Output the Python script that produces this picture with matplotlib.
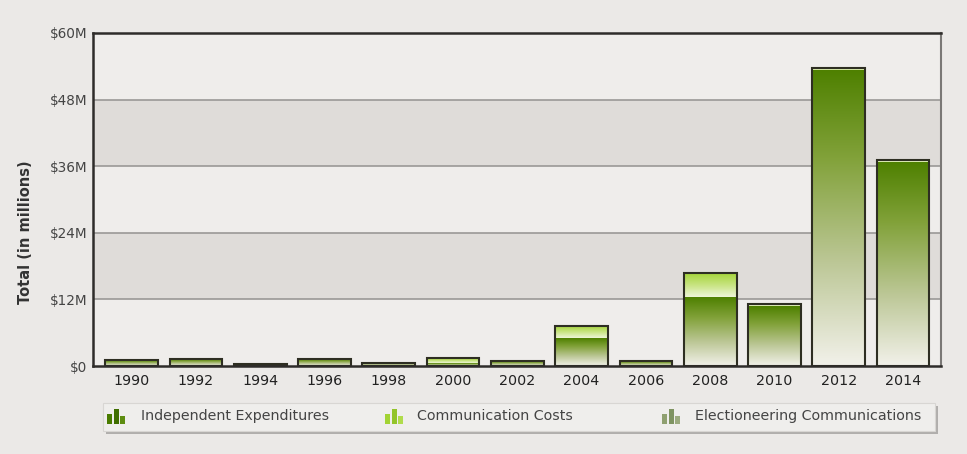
import numpy as np
import matplotlib
matplotlib.use('Agg')
import matplotlib.pyplot as plt
from matplotlib.patches import Rectangle
from matplotlib.colors import LinearSegmentedColormap

# dane (w mln $)
lata = ['1990', '1992', '1994', '1996', '1998', '2000', '2002',
        '2004', '2006', '2008', '2010', '2012', '2014']
niezalezne = [1.0, 1.2, 0.3, 1.2, 0.6, 0.5, 0.9, 5.0, 0.9, 12.4, 10.8, 53.4, 36.8]
komunikacja = [0.0, 0.0, 0.0, 0.0, 0.0, 0.9, 0.0, 2.2, 0.0, 4.4, 0.4, 0.3, 0.4]
wyborcze = [0.0] * 13
yticks = [0, 12, 24, 36, 48, 60]
ytick_labels = ['$0', '$12M', '$24M', '$36M', '$48M', '$60M']
legenda = ['Independent Expenditures', 'Communication Costs',
           'Electioneering Communications']

W, H = 967, 454
bg = '#ebe9e7'
fig = plt.figure(figsize=(W / 100, H / 100), dpi=100, facecolor=bg)
ax = fig.add_axes([93 / W, 1 - 366 / H, (941 - 93) / W, (366 - 33) / H])
ax.set_facecolor('#efedeb')

# pasy tla
for lo, hi in [(12, 24), (36, 48)]:
    ax.axhspan(lo, hi, color='#dfdcd9', zorder=0, lw=0)
for y in yticks[1:-1]:
    ax.axhline(y, color='#9a9896', lw=1.2, zorder=1)

cmap_ie = LinearSegmentedColormap.from_list(
    'ie', [(0, '#f2f1ea'), (0.35, '#bcc796'), (0.7, '#82a23a'), (1, '#4e8000')])
cmap_cc = LinearSegmentedColormap.from_list(
    'cc', ['#eef5d8', '#c6e37e', '#a2d334'])
grad = np.linspace(0, 1, 256).reshape(-1, 1)

x = np.arange(len(lata))
w = 0.82


def segment(xc, y0, h, cmap):
    if h <= 0:
        return
    rect = Rectangle((xc - w / 2, y0), w, h, facecolor='none', edgecolor='none')
    ax.add_patch(rect)
    im = ax.imshow(grad, cmap=cmap, origin='lower', aspect='auto',
                   extent=(xc - w / 2, xc + w / 2, y0, y0 + h), zorder=2,
                   interpolation='bilinear')
    im.set_clip_path(rect)


for i in range(len(lata)):
    segment(x[i], 0, niezalezne[i], cmap_ie)
    segment(x[i], niezalezne[i], komunikacja[i], cmap_cc)
    total = niezalezne[i] + komunikacja[i] + wyborcze[i]
    ax.add_patch(Rectangle((x[i] - w / 2, 0), w, total, facecolor='none',
                           edgecolor='#2e2e22', lw=1.5, zorder=3))

ax.set_xlim(-0.6, 12.59)
ax.set_ylim(0, 60)
ax.set_xticks(x)
ax.set_xticklabels(lata, fontsize=10.3, color='#222222')
ax.set_yticks(yticks)
ax.set_yticklabels(ytick_labels, fontsize=9.8, color='#444444')
ax.tick_params(length=0, pad=4)
ax.tick_params(axis='x', pad=6)
for s in ['left', 'bottom', 'top']:
    ax.spines[s].set_color('#2e2c2a')
    ax.spines[s].set_linewidth(1.8)
ax.spines['right'].set_color('#7a7876')
ax.spines['right'].set_linewidth(1.5)
ax.spines['bottom'].set_zorder(5)

fig.text(26 / W, 1 - 232 / H, 'Total (in millions)', rotation=90,
         ha='center', va='center', fontsize=10.5, fontweight='bold',
         color='#333333')

# legenda
lg = fig.add_axes([0, 0, 1, 1], facecolor='none')
lg.set_xlim(0, W)
lg.set_ylim(H, 0)
lg.axis('off')
lg.add_patch(Rectangle((106, 406), 832, 28, facecolor='#8a8886',
                       edgecolor='none', alpha=0.6))
lg.add_patch(Rectangle((103, 403), 832, 28, facecolor='#efeeec',
                       edgecolor='#d8d6d3', lw=0.8))
ikony = [(107, 141, ['#4a7c00', '#3f6e00', '#5d8c10']),
         (385, 417, ['#a2d334', '#93c42a', '#b0dc4c']),
         (662, 695, ['#8fa070', '#7f9462', '#9cab80'])]
for (ix, tx, kol), nazwa in zip(ikony, legenda):
    for k, hh in enumerate([0.7, 1.0, 0.55]):
        lg.add_patch(Rectangle((ix + k * 6.5, 424 - 15 * hh), 5, 15 * hh,
                               facecolor=kol[k], edgecolor='none'))
    lg.text(tx, 416, nazwa, fontsize=10.3, color='#444444', va='center', ha='left')

fig.savefig('out.png', dpi=100, facecolor=bg)
